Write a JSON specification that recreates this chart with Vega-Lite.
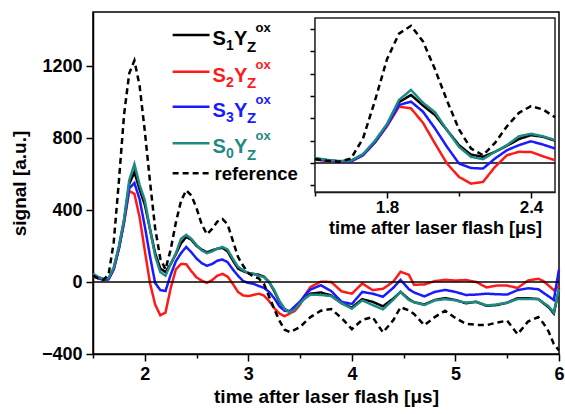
{
  "$schema": "https://vega.github.io/schema/vega-lite/v6.json",
  "width": 466,
  "height": 342,
  "autosize": "none",
  "padding": {"left": 93, "top": 12, "right": 6, "bottom": 60},
  "config": {
    "font": "Liberation Sans",
    "view": {"stroke": "#000", "strokeWidth": 1.5},
    "axis": {"domainColor": "#000", "domainWidth": 1.5, "tickColor": "#000", "tickWidth": 1.5, "labelColor": "#000", "titleColor": "#000", "labelFontWeight": "bold", "titleFontWeight": "bold", "grid": false, "labelFont": "Liberation Sans", "titleFont": "Liberation Sans"}
  },
  "datasets": {
    "sig": [
      {"t": 1.50, "s1": 40, "s2": 30, "s3": 35, "s0": 45, "ref": 35},
      {"t": 1.55, "s1": 25, "s2": 20, "s3": 22, "s0": 28, "ref": 20},
      {"t": 1.60, "s1": 15, "s2": 12, "s3": 12, "s0": 18, "ref": 12},
      {"t": 1.65, "s1": 18, "s2": 15, "s3": 15, "s0": 22, "ref": 40},
      {"t": 1.70, "s1": 75, "s2": 70, "s3": 70, "s0": 80, "ref": 220},
      {"t": 1.75, "s1": 190, "s2": 185, "s3": 185, "s0": 200, "ref": 560},
      {"t": 1.80, "s1": 340, "s2": 330, "s3": 335, "s0": 350, "ref": 930},
      {"t": 1.85, "s1": 545, "s2": 505, "s3": 520, "s0": 565, "ref": 1160},
      {"t": 1.90, "s1": 610, "s2": 490, "s3": 550, "s0": 655, "ref": 1230},
      {"t": 1.95, "s1": 515, "s2": 360, "s3": 460, "s0": 540, "ref": 1090},
      {"t": 2.00, "s1": 430, "s2": 175, "s3": 310, "s0": 455, "ref": 840},
      {"t": 2.05, "s1": 295, "s2": -5, "s3": 145, "s0": 295, "ref": 560},
      {"t": 2.10, "s1": 160, "s2": -125, "s3": -5, "s0": 145, "ref": 300},
      {"t": 2.15, "s1": 75, "s2": -185, "s3": -45, "s0": 55, "ref": 130},
      {"t": 2.20, "s1": 55, "s2": -170, "s3": -50, "s0": 35, "ref": 70},
      {"t": 2.25, "s1": 100, "s2": -35, "s3": 40, "s0": 100, "ref": 180},
      {"t": 2.30, "s1": 155, "s2": 70, "s3": 115, "s0": 160, "ref": 330},
      {"t": 2.35, "s1": 215, "s2": 100, "s3": 160, "s0": 240, "ref": 450},
      {"t": 2.40, "s1": 250, "s2": 99, "s3": 195, "s0": 262, "ref": 510},
      {"t": 2.45, "s1": 235, "s2": 60, "s3": 165, "s0": 240, "ref": 480},
      {"t": 2.50, "s1": 200, "s2": 25, "s3": 130, "s0": 205, "ref": 410},
      {"t": 2.55, "s1": 180, "s2": 8, "s3": 105, "s0": 175, "ref": 320},
      {"t": 2.60, "s1": 165, "s2": -5, "s3": 90, "s0": 160, "ref": 265},
      {"t": 2.65, "s1": 175, "s2": 10, "s3": 100, "s0": 170, "ref": 295},
      {"t": 2.70, "s1": 185, "s2": 35, "s3": 118, "s0": 185, "ref": 335},
      {"t": 2.75, "s1": 190, "s2": 45, "s3": 125, "s0": 195, "ref": 350},
      {"t": 2.80, "s1": 170, "s2": 30, "s3": 110, "s0": 180, "ref": 320},
      {"t": 2.85, "s1": 120, "s2": -10, "s3": 70, "s0": 130, "ref": 230},
      {"t": 2.90, "s1": 75, "s2": -55, "s3": 35, "s0": 85, "ref": 140},
      {"t": 2.95, "s1": 60, "s2": -75, "s3": 5, "s0": 65, "ref": 90},
      {"t": 3.00, "s1": 50, "s2": -78, "s3": -5, "s0": 50, "ref": 50},
      {"t": 3.05, "s1": 45, "s2": -72, "s3": -10, "s0": 45, "ref": 30},
      {"t": 3.10, "s1": 40, "s2": -65, "s3": -22, "s0": 35, "ref": 20},
      {"t": 3.15, "s1": 30, "s2": -75, "s3": -32, "s0": 28, "ref": -10},
      {"t": 3.20, "s1": 0, "s2": -105, "s3": -55, "s0": 0, "ref": -80},
      {"t": 3.25, "s1": -50, "s2": -145, "s3": -90, "s0": -45, "ref": -150},
      {"t": 3.30, "s1": -110, "s2": -175, "s3": -135, "s0": -105, "ref": -215},
      {"t": 3.35, "s1": -150, "s2": -190, "s3": -160, "s0": -150, "ref": -265},
      {"t": 3.40, "s1": -165, "s2": -175, "s3": -162, "s0": -168, "ref": -278},
      {"t": 3.45, "s1": -150, "s2": -160, "s3": -135, "s0": -152, "ref": -265},
      {"t": 3.50, "s1": -115, "s2": -125, "s3": -108, "s0": -118, "ref": -250},
      {"t": 3.55, "s1": -85, "s2": -70, "s3": -72, "s0": -90, "ref": -222},
      {"t": 3.60, "s1": -65, "s2": -28, "s3": -42, "s0": -70, "ref": -195},
      {"t": 3.70, "s1": -58, "s2": 2, "s3": -18, "s0": -72, "ref": -160},
      {"t": 3.80, "s1": -75, "s2": 0, "s3": -50, "s0": -78, "ref": -150},
      {"t": 3.90, "s1": -118, "s2": -52, "s3": -110, "s0": -118, "ref": -200},
      {"t": 4.00, "s1": -142, "s2": -65, "s3": -122, "s0": -148, "ref": -262},
      {"t": 4.10, "s1": -95, "s2": -8, "s3": -55, "s0": -102, "ref": -210},
      {"t": 4.20, "s1": -110, "s2": -45, "s3": -65, "s0": -128, "ref": -195},
      {"t": 4.30, "s1": -135, "s2": -38, "s3": -82, "s0": -152, "ref": -280},
      {"t": 4.40, "s1": -92, "s2": 2, "s3": -32, "s0": -98, "ref": -212},
      {"t": 4.47, "s1": -55, "s2": 57, "s3": 12, "s0": -55, "ref": -140},
      {"t": 4.55, "s1": -95, "s2": 40, "s3": -40, "s0": -100, "ref": -158},
      {"t": 4.60, "s1": -112, "s2": -15, "s3": -58, "s0": -112, "ref": -178},
      {"t": 4.70, "s1": -125, "s2": -14, "s3": -80, "s0": -128, "ref": -240},
      {"t": 4.80, "s1": -100, "s2": 5, "s3": -55, "s0": -102, "ref": -195},
      {"t": 4.90, "s1": -90, "s2": 12, "s3": -44, "s0": -95, "ref": -160},
      {"t": 5.00, "s1": -100, "s2": 8, "s3": -55, "s0": -102, "ref": -200},
      {"t": 5.10, "s1": -118, "s2": 11, "s3": -72, "s0": -115, "ref": -232},
      {"t": 5.20, "s1": -110, "s2": 0, "s3": -70, "s0": -110, "ref": -238},
      {"t": 5.30, "s1": -132, "s2": -30, "s3": -65, "s0": -130, "ref": -240},
      {"t": 5.40, "s1": -128, "s2": -20, "s3": -68, "s0": -125, "ref": -225},
      {"t": 5.50, "s1": -115, "s2": -20, "s3": -70, "s0": -115, "ref": -215},
      {"t": 5.60, "s1": -90, "s2": -33, "s3": -45, "s0": -95, "ref": -290},
      {"t": 5.70, "s1": -90, "s2": 8, "s3": -35, "s0": -95, "ref": -220},
      {"t": 5.80, "s1": -95, "s2": 18, "s3": -40, "s0": -95, "ref": -195},
      {"t": 5.85, "s1": -118, "s2": 5, "s3": -60, "s0": -115, "ref": -230},
      {"t": 5.90, "s1": -140, "s2": -20, "s3": -80, "s0": -135, "ref": -275},
      {"t": 5.95, "s1": -175, "s2": -45, "s3": -100, "s0": -170, "ref": -345},
      {"t": 6.00, "s1": -40, "s2": -22, "s3": 70, "s0": -40, "ref": -380}
    ]
  },
  "layer": [
    {
      "layer": [
        {
          "data": {"name": "sig"},
          "transform": [{"fold": ["s1", "s2", "s3", "s0", "ref"], "as": ["series", "signal"]}],
          "mark": {"type": "line", "strokeWidth": 2.5},
          "encoding": {
            "x": {"field": "t", "type": "quantitative", "scale": {"domain": [1.5, 6], "nice": false},
              "axis": {"title": "time after laser flash [μs]", "format": "~g", "values": [1.5, 2, 2.5, 3, 3.5, 4, 4.5, 5, 5.5, 6], "labelExpr": "datum.value % 1 === 0 ? datum.label : ''", "tickSize": {"condition": {"test": "datum.value % 1 === 0", "value": 7}, "value": 4}, "labelFontSize": 18, "titleFontSize": 19, "labelPadding": 4, "titlePadding": 4, "labelFlush": false}},
            "y": {"field": "signal", "type": "quantitative", "scale": {"domain": [-400, 1500], "nice": false},
              "axis": {"title": "signal [a.u.]", "format": "d", "values": [-400, -200, 0, 200, 400, 600, 800, 1000, 1200, 1400], "labelExpr": "datum.value % 400 === 0 ? datum.label : ''", "tickSize": {"condition": {"test": "datum.value % 400 === 0", "value": 7}, "value": 4}, "labelFontSize": 18, "titleFontSize": 19, "labelPadding": 4, "titlePadding": 12}},
            "color": {"field": "series", "type": "nominal", "scale": {"domain": ["s1", "s2", "s3", "s0", "ref"], "range": ["#000000", "#ff1a1a", "#1a1aff", "#1f8a84", "#000000"]}, "legend": null},
            "strokeDash": {"field": "series", "type": "nominal", "scale": {"domain": ["s1", "s2", "s3", "s0", "ref"], "range": [[1, 0], [1, 0], [1, 0], [1, 0], [6, 4]]}, "legend": null}
          }
        },
        {"data": {"values": [{}]}, "mark": {"type": "rule", "color": "#000", "strokeWidth": 1.5}, "encoding": {"y": {"datum": 0}}},
        {"data": {"values": [{}]}, "mark": {"type": "rule", "color": "#000000", "strokeWidth": 2.5}, "encoding": {"x": {"datum": 2.269}, "x2": {"datum": 2.625}, "y": {"datum": 1372}}},
        {"data": {"values": [{}]}, "mark": {"type": "rule", "color": "#ff1a1a", "strokeWidth": 2.5}, "encoding": {"x": {"datum": 2.269}, "x2": {"datum": 2.625}, "y": {"datum": 1168}}},
        {"data": {"values": [{}]}, "mark": {"type": "rule", "color": "#1a1aff", "strokeWidth": 2.5}, "encoding": {"x": {"datum": 2.269}, "x2": {"datum": 2.625}, "y": {"datum": 974}}},
        {"data": {"values": [{}]}, "mark": {"type": "rule", "color": "#1f8a84", "strokeWidth": 2.5}, "encoding": {"x": {"datum": 2.269}, "x2": {"datum": 2.625}, "y": {"datum": 771}}},
        {"data": {"values": [{}]}, "mark": {"type": "rule", "color": "#000000", "strokeWidth": 2.5, "strokeDash": [6, 4]}, "encoding": {"x": {"datum": 2.269}, "x2": {"datum": 2.625}, "y": {"datum": 604}}},

        {"data": {"values": [{}]}, "mark": {"type": "text", "text": "S", "align": "left", "baseline": "alphabetic", "fontSize": 20, "fontWeight": "bold", "dx": 0, "dy": 10, "color": "#000000"}, "encoding": {"x": {"datum": 2.654}, "y": {"datum": 1372}}},
        {"data": {"values": [{}]}, "mark": {"type": "text", "text": "1", "align": "left", "baseline": "alphabetic", "fontSize": 14, "fontWeight": "bold", "dx": 13.5, "dy": 15, "color": "#000000"}, "encoding": {"x": {"datum": 2.654}, "y": {"datum": 1372}}},
        {"data": {"values": [{}]}, "mark": {"type": "text", "text": "Y", "align": "left", "baseline": "alphabetic", "fontSize": 20, "fontWeight": "bold", "dx": 21.5, "dy": 10, "color": "#000000"}, "encoding": {"x": {"datum": 2.654}, "y": {"datum": 1372}}},
        {"data": {"values": [{}]}, "mark": {"type": "text", "text": "Z", "align": "left", "baseline": "alphabetic", "fontSize": 15, "fontWeight": "bold", "dx": 34.5, "dy": 16.5, "color": "#000000"}, "encoding": {"x": {"datum": 2.654}, "y": {"datum": 1372}}},
        {"data": {"values": [{}]}, "mark": {"type": "text", "text": "ox", "align": "left", "baseline": "alphabetic", "fontSize": 13, "fontWeight": "bold", "dx": 43, "dy": -3, "color": "#000000"}, "encoding": {"x": {"datum": 2.654}, "y": {"datum": 1372}}},

        {"data": {"values": [{}]}, "mark": {"type": "text", "text": "S", "align": "left", "baseline": "alphabetic", "fontSize": 20, "fontWeight": "bold", "dx": 0, "dy": 10, "color": "#ff1a1a"}, "encoding": {"x": {"datum": 2.654}, "y": {"datum": 1168}}},
        {"data": {"values": [{}]}, "mark": {"type": "text", "text": "2", "align": "left", "baseline": "alphabetic", "fontSize": 14, "fontWeight": "bold", "dx": 13.5, "dy": 15, "color": "#ff1a1a"}, "encoding": {"x": {"datum": 2.654}, "y": {"datum": 1168}}},
        {"data": {"values": [{}]}, "mark": {"type": "text", "text": "Y", "align": "left", "baseline": "alphabetic", "fontSize": 20, "fontWeight": "bold", "dx": 21.5, "dy": 10, "color": "#ff1a1a"}, "encoding": {"x": {"datum": 2.654}, "y": {"datum": 1168}}},
        {"data": {"values": [{}]}, "mark": {"type": "text", "text": "Z", "align": "left", "baseline": "alphabetic", "fontSize": 15, "fontWeight": "bold", "dx": 34.5, "dy": 16.5, "color": "#ff1a1a"}, "encoding": {"x": {"datum": 2.654}, "y": {"datum": 1168}}},
        {"data": {"values": [{}]}, "mark": {"type": "text", "text": "ox", "align": "left", "baseline": "alphabetic", "fontSize": 13, "fontWeight": "bold", "dx": 43, "dy": -3, "color": "#ff1a1a"}, "encoding": {"x": {"datum": 2.654}, "y": {"datum": 1168}}},

        {"data": {"values": [{}]}, "mark": {"type": "text", "text": "S", "align": "left", "baseline": "alphabetic", "fontSize": 20, "fontWeight": "bold", "dx": 0, "dy": 10, "color": "#1a1aff"}, "encoding": {"x": {"datum": 2.654}, "y": {"datum": 974}}},
        {"data": {"values": [{}]}, "mark": {"type": "text", "text": "3", "align": "left", "baseline": "alphabetic", "fontSize": 14, "fontWeight": "bold", "dx": 13.5, "dy": 15, "color": "#1a1aff"}, "encoding": {"x": {"datum": 2.654}, "y": {"datum": 974}}},
        {"data": {"values": [{}]}, "mark": {"type": "text", "text": "Y", "align": "left", "baseline": "alphabetic", "fontSize": 20, "fontWeight": "bold", "dx": 21.5, "dy": 10, "color": "#1a1aff"}, "encoding": {"x": {"datum": 2.654}, "y": {"datum": 974}}},
        {"data": {"values": [{}]}, "mark": {"type": "text", "text": "Z", "align": "left", "baseline": "alphabetic", "fontSize": 15, "fontWeight": "bold", "dx": 34.5, "dy": 16.5, "color": "#1a1aff"}, "encoding": {"x": {"datum": 2.654}, "y": {"datum": 974}}},
        {"data": {"values": [{}]}, "mark": {"type": "text", "text": "ox", "align": "left", "baseline": "alphabetic", "fontSize": 13, "fontWeight": "bold", "dx": 43, "dy": -3, "color": "#1a1aff"}, "encoding": {"x": {"datum": 2.654}, "y": {"datum": 974}}},

        {"data": {"values": [{}]}, "mark": {"type": "text", "text": "S", "align": "left", "baseline": "alphabetic", "fontSize": 20, "fontWeight": "bold", "dx": 0, "dy": 10, "color": "#1f8a84"}, "encoding": {"x": {"datum": 2.654}, "y": {"datum": 771}}},
        {"data": {"values": [{}]}, "mark": {"type": "text", "text": "0", "align": "left", "baseline": "alphabetic", "fontSize": 14, "fontWeight": "bold", "dx": 13.5, "dy": 15, "color": "#1f8a84"}, "encoding": {"x": {"datum": 2.654}, "y": {"datum": 771}}},
        {"data": {"values": [{}]}, "mark": {"type": "text", "text": "Y", "align": "left", "baseline": "alphabetic", "fontSize": 20, "fontWeight": "bold", "dx": 21.5, "dy": 10, "color": "#1f8a84"}, "encoding": {"x": {"datum": 2.654}, "y": {"datum": 771}}},
        {"data": {"values": [{}]}, "mark": {"type": "text", "text": "Z", "align": "left", "baseline": "alphabetic", "fontSize": 15, "fontWeight": "bold", "dx": 34.5, "dy": 16.5, "color": "#1f8a84"}, "encoding": {"x": {"datum": 2.654}, "y": {"datum": 771}}},
        {"data": {"values": [{}]}, "mark": {"type": "text", "text": "ox", "align": "left", "baseline": "alphabetic", "fontSize": 13, "fontWeight": "bold", "dx": 43, "dy": -3, "color": "#1f8a84"}, "encoding": {"x": {"datum": 2.654}, "y": {"datum": 771}}},

        {"data": {"values": [{}]}, "mark": {"type": "text", "text": "reference", "align": "left", "baseline": "alphabetic", "fontSize": 18.5, "fontWeight": "bold", "dx": 2, "dy": 7, "color": "#000000"}, "encoding": {"x": {"datum": 2.654}, "y": {"datum": 604}}}
      ]
    },
    {
      "layer": [
        {
          "data": {"values": [{}]},
          "mark": {"type": "rect", "fill": "#ffffff", "stroke": "#222", "strokeWidth": 1.5},
          "encoding": {
            "x": {"datum": 1.5, "type": "quantitative", "scale": {"domain": [1.5, 2.5], "range": [222, 462], "nice": false},
              "axis": {"orient": "bottom", "offset": -162, "title": "time after laser flash [μs]", "values": [1.5, 1.8, 2.1, 2.4], "labelExpr": "datum.value == 1.8 || datum.value == 2.4 ? datum.label : ''", "tickSize": {"condition": {"test": "datum.value == 1.8 || datum.value == 2.4", "value": 6}, "value": 4}, "labelFontSize": 17, "titleFontSize": 18, "labelPadding": 1, "titlePadding": 4, "labelFlush": false}},
            "x2": {"datum": 2.5},
            "y": {"datum": -260, "type": "quantitative", "scale": {"domain": [-260, 1300], "range": [180, 6], "nice": false},
              "axis": {"orient": "left", "offset": -222, "title": null, "labels": false, "values": [-200, 0, 200, 400, 600, 800, 1000, 1200], "tickSize": 5}},
            "y2": {"datum": 1300}
          }
        },
        {"data": {"values": [{}]}, "mark": {"type": "rule", "color": "#000", "strokeWidth": 1.5}, "encoding": {"x": {"datum": 1.5}, "x2": {"datum": 2.5}, "y": {"datum": 0}}},
        {
          "data": {"name": "sig"},
          "transform": [{"filter": "datum.t <= 2.5"}, {"fold": ["s1", "s2", "s3", "s0", "ref"], "as": ["series", "signal"]}],
          "mark": {"type": "line", "strokeWidth": 2.5},
          "encoding": {
            "x": {"field": "t", "type": "quantitative"},
            "y": {"field": "signal", "type": "quantitative"},
            "color": {"field": "series", "type": "nominal", "scale": {"domain": ["s1", "s2", "s3", "s0", "ref"], "range": ["#000000", "#ff1a1a", "#1a1aff", "#1f8a84", "#000000"]}, "legend": null},
            "strokeDash": {"field": "series", "type": "nominal", "scale": {"domain": ["s1", "s2", "s3", "s0", "ref"], "range": [[1, 0], [1, 0], [1, 0], [1, 0], [6, 4]]}, "legend": null}
          }
        }
      ]
    }
  ],
  "resolve": {"scale": {"x": "independent", "y": "independent"}, "axis": {"x": "independent", "y": "independent"}}
}
